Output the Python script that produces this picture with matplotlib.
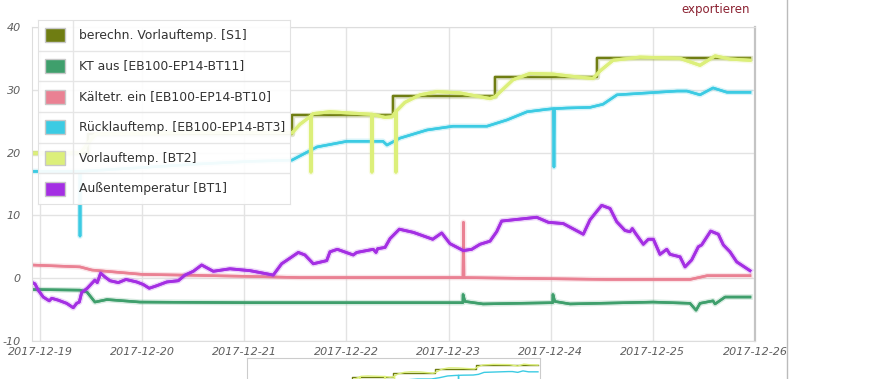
""" Temperaturverlauf Wärmepumpe, 2017-12-19 .. 2017-12-26 """
import matplotlib

matplotlib.use("Agg")
import matplotlib.dates as mdates
import matplotlib.patheffects as pe
import matplotlib.pyplot as plt
import numpy as np
import pandas as pd
from matplotlib.lines import Line2D
from matplotlib.patches import Rectangle

plt.rcParams["axes.unicode_minus"] = False

#####################################################
# DATA  (x = days after 2017-12-19 00:00, y = °C)
#####################################################
BASE = pd.Timestamp("2017-12-19")

labels = [
    "berechn. Vorlauftemp. [S1]",
    "KT aus [EB100-EP14-BT11]",
    "Kältetr. ein [EB100-EP14-BT10]",
    "Rücklauftemp. [EB100-EP14-BT3]",
    "Vorlauftemp. [BT2]",
    "Außentemperatur [BT1]",
]
colors = ["#6f7d12", "#3f9f6c", "#ea8193", "#3ccbe3", "#dcef7a", "#a42fe3"]

s1_days = [-0.078, 0.47, 2.467, 3.456, 4.455, 5.453, 6.95]
s1_vals = [20, 23, 26, 29, 32, 35, 35]

kt_days = [-0.078, 0.392, 0.46, 0.538, 0.656, 0.979, 2.056, 4.14, 4.142, 4.16,
           4.337, 5.02, 5.022, 5.04, 5.189, 6.002, 6.364, 6.423, 6.462, 6.589,
           6.609, 6.707, 6.951]
kt_vals = [-1.8, -1.9, -2.2, -3.8, -3.4, -3.8, -3.9, -3.9, -2.6, -3.7,
           -4.1, -3.9, -2.6, -3.7, -4.1, -3.8, -4.0, -5.1, -4.0, -3.6,
           -4.1, -3.0, -3.0]

kb_days = [-0.078, 0.392, 0.509, 1.008, 1.371, 2.007, 2.546, 4.141, 4.146, 4.151,
           5.551, 6.364, 6.531, 6.951]
kb_vals = [2.1, 1.8, 1.3, 0.6, 0.5, 0.3, 0.1, 0.1, 8.9, 0.1,
           -0.2, -0.2, 0.4, 0.4]

rl_days = [-0.078, 0.389, 0.392, 0.395, 0.979, 1.566, 2.056, 2.467, 2.712, 3.006,
           3.358, 3.397, 3.524, 3.789, 4.043, 4.376, 4.572, 4.768, 4.964, 5.027,
           5.032, 5.037, 5.159, 5.385, 5.512, 5.649, 5.943, 6.237, 6.334, 6.462,
           6.589, 6.726, 6.951]
rl_vals = [17.0, 17.0, 6.7, 17.0, 17.6, 18.2, 18.6, 18.8, 20.9, 21.8,
           21.8, 21.2, 22.3, 23.6, 24.2, 24.2, 25.2, 26.5, 26.9, 27.0,
           17.7, 27.0, 27.1, 27.2, 27.7, 29.2, 29.5, 29.8, 29.8, 29.2,
           30.3, 29.6, 29.6]

vl_days = [-0.078, 0.40, 0.47, 0.55, 1.5, 2.46, 2.467, 2.545, 2.650, 2.653,
           2.656, 2.673, 2.839, 3.035, 3.247, 3.25, 3.253, 3.378, 3.446, 3.482,
           3.485, 3.488, 3.573, 3.72, 3.887, 4.112, 4.308, 4.406, 4.455, 4.631,
           4.797, 5.022, 5.287, 5.414, 5.483, 5.61, 5.874, 6.266, 6.462, 6.609,
           6.755, 6.951]
vl_vals = [19.9, 20.0, 21.5, 23.0, 23.2, 23.2, 23.1, 24.5, 25.8, 16.9,
           25.9, 26.2, 26.5, 26.3, 26.1, 16.9, 26.1, 25.6, 25.7, 26.5,
           16.9, 26.6, 28.0, 29.2, 29.7, 29.5, 28.9, 28.6, 28.9, 31.6,
           32.6, 32.5, 32.0, 31.8, 33.0, 34.7, 35.2, 35.0, 33.9, 35.4,
           34.9, 34.7]

at_days = [-0.075, -0.049, -0.017, 0.032, 0.091, 0.115, 0.179, 0.261, 0.326, 0.359,
           0.385, 0.408, 0.463, 0.538, 0.561, 0.594, 0.636, 0.685, 0.767, 0.842,
           0.947, 1.011, 1.070, 1.143, 1.241, 1.354, 1.420, 1.501, 1.583, 1.697,
           1.860, 2.056, 2.284, 2.366, 2.448, 2.529, 2.594, 2.676, 2.807, 2.839,
           2.911, 3.067, 3.101, 3.263, 3.290, 3.306, 3.378, 3.427, 3.518, 3.655,
           3.845, 3.933, 4.014, 4.144, 4.227, 4.308, 4.406, 4.471, 4.520, 4.863,
           4.977, 5.123, 5.319, 5.385, 5.499, 5.581, 5.646, 5.727, 5.776, 5.799,
           5.832, 5.907, 5.956, 6.005, 6.070, 6.136, 6.168, 6.266, 6.315, 6.380,
           6.445, 6.478, 6.566, 6.641, 6.690, 6.755, 6.821, 6.951]
at_vals = [-0.7, -0.9, -1.9, -3.0, -3.6, -3.2, -3.5, -4.0, -4.7, -4.0,
           -3.8, -2.3, -1.6, -0.3, -0.7, 0.8, 0.2, -0.4, -0.7, -0.2,
           -0.6, -1.0, -1.6, -1.2, -0.6, -0.4, 0.5, 1.1, 2.1, 1.1,
           1.5, 1.2, 0.5, 2.3, 3.2, 4.1, 3.7, 2.3, 2.8, 4.2,
           4.6, 3.7, 4.1, 4.6, 4.1, 4.7, 4.9, 6.3, 7.8, 7.3,
           6.2, 7.2, 5.5, 4.4, 4.6, 5.4, 5.9, 7.4, 9.1, 9.7,
           8.9, 8.7, 7.0, 9.3, 11.6, 11.1, 9.0, 7.6, 7.4, 7.9,
           7.1, 5.4, 6.2, 6.2, 3.8, 4.6, 3.8, 3.4, 1.8, 2.9,
           5.0, 5.3, 7.5, 7.0, 5.3, 4.2, 2.6, 1.2]

series = [
    (s1_days, s1_vals, "steps-post"),
    (kt_days, kt_vals, "default"),
    (kb_days, kb_vals, "default"),
    (rl_days, rl_vals, "default"),
    (vl_days, vl_vals, "default"),
    (at_days, at_vals, "default"),
]
widths = [1.6, 1.8, 1.8, 1.8, 2.2, 2.0]

x_start, x_end = -0.078, 7.0


def to_time(days):
    return BASE + pd.to_timedelta(np.asarray(days, dtype=float), unit="D")


#####################################################
# FIGURE
#####################################################
W, H = 880, 379
fig = plt.figure(figsize=(W / 100, H / 100), dpi=100)
fig.patch.set_facecolor("white")

ax = fig.add_axes([32 / W, 1 - 341 / H, (755 - 32) / W, (341 - 27) / H])

for (d, v, ds), c, lw in zip(series, colors, widths):
    ax.plot(
        to_time(d), v, color=c, lw=lw, drawstyle=ds, solid_joinstyle="round",
        path_effects=[pe.withStroke(linewidth=lw + 2.2, foreground=c, alpha=0.2),
                      pe.Normal()],
    )

ax.set_xlim(to_time([x_start, x_end]))
ax.set_ylim(-10, 40)
ax.set_yticks([-10, 0, 10, 20, 30, 40])
ax.xaxis.set_major_locator(mdates.DayLocator())
ax.xaxis.set_major_formatter(mdates.DateFormatter("%Y-%m-%d"))
ax.grid(True, color="#e3e3e3", lw=1)
ax.set_axisbelow(True)
ax.tick_params(length=0, labelsize=8, labelcolor="#5e5e5e")
ax.tick_params(axis="y", pad=8)
ax.tick_params(axis="x", pad=4)
for lab in ax.get_xticklabels() + ax.get_yticklabels():
    lab.set_fontstyle("italic")
for side in ["left", "top", "bottom"]:
    ax.spines[side].set_color("#dddddd")
ax.spines["right"].set_color("#c4c4c4")
ax.spines["right"].set_linewidth(1.6)

# legend as a table box
lw_px, lh_px = 252, 184
lax = fig.add_axes([38 / W, 1 - 204 / H, lw_px / W, lh_px / H])
lax.set_xlim(0, lw_px)
lax.set_ylim(lh_px, 0)
lax.patch.set_facecolor("white")
lax.patch.set_alpha(0.93)
lax.set_xticks([])
lax.set_yticks([])
for s in lax.spines.values():
    s.set_color("#e2e2e2")
row_h = lh_px / len(labels)
lax.axvline(35, color="#e6e6e6", lw=1)
for i, (lab, c) in enumerate(zip(labels, colors)):
    yc = (i + 0.5) * row_h
    if i > 0:
        lax.axhline(i * row_h, color="#e6e6e6", lw=1)
    lax.add_patch(Rectangle((7, yc - 7), 20, 14, facecolor=c, edgecolor="#c8c8c8", lw=1))
    lax.text(41, yc, lab, fontsize=8.9, color="#333333", va="center", ha="left")

# navigator (partly cut off at the bottom)
nax = fig.add_axes([247 / W, (H - 424.5) / H, 293 / W, 66.5 / H])
for (d, v, ds), c in zip(series, colors):
    nax.plot(to_time(d), v, color=c, lw=1, drawstyle=ds)
nax.set_xlim(to_time([x_start, x_end]))
nax.set_ylim(-10, 40)
nax.set_xticks([])
nax.set_yticks([])
for s in nax.spines.values():
    s.set_color("#cccccc")

fig.text(750 / W, 1 - 10 / H, "exportieren", color="#8b2131", fontsize=8.5,
         ha="right", va="center")
fig.add_artist(Line2D([787 / W, 787 / W], [0, 1], transform=fig.transFigure,
                      color="#bbbbbb", lw=1))

fig.savefig("out.png", dpi=100)
